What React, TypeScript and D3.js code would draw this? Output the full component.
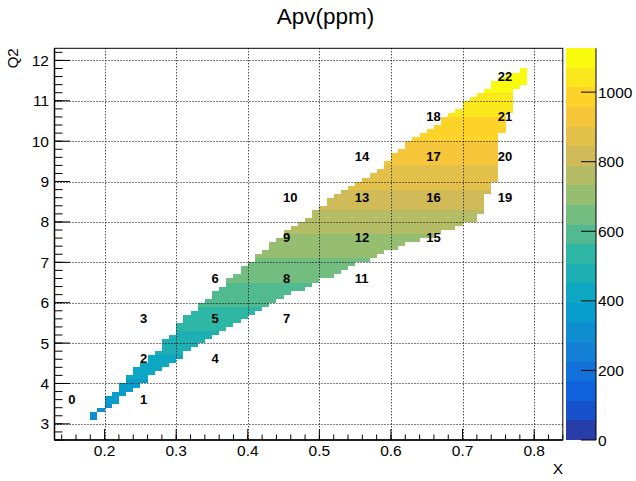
import React from 'react';
import * as d3 from 'd3';

// ---- data ----
const colX = [0.18, 0.19, 0.2, 0.21, 0.22, 0.23, 0.24, 0.25, 0.26, 0.27, 0.28, 0.29, 0.3, 0.31, 0.32, 0.33, 0.34, 0.35, 0.36, 0.37, 0.38, 0.39, 0.4, 0.41, 0.42, 0.43, 0.44, 0.45, 0.46, 0.47, 0.48, 0.49, 0.5, 0.51, 0.52, 0.53, 0.54, 0.55, 0.56, 0.57, 0.58, 0.59, 0.6, 0.61, 0.62, 0.63, 0.64, 0.65, 0.66, 0.67, 0.68, 0.69, 0.7, 0.71, 0.72, 0.73, 0.74, 0.75, 0.76, 0.77, 0.78];
const colQ2Lo = [3.1, 3.3, 3.4, 3.5, 3.7, 3.8, 3.9, 4.0, 4.2, 4.3, 4.4, 4.5, 4.6, 4.8, 4.9, 5.0, 5.1, 5.2, 5.3, 5.4, 5.5, 5.6, 5.7, 5.8, 5.9, 6.0, 6.1, 6.2, 6.3, 6.3, 6.4, 6.5, 6.6, 6.6, 6.7, 6.8, 6.9, 7.0, 7.0, 7.1, 7.2, 7.3, 7.3, 7.4, 7.5, 7.5, 7.6, 7.6, 7.7, 7.8, 7.8, 7.9, 8.0, 8.0, 8.2, 8.7, 9.0, 10.2, 10.7, 11.3, 11.4];
const colQ2Hi = [3.3, 3.4, 3.7, 3.8, 4.0, 4.2, 4.4, 4.5, 4.7, 4.8, 5.1, 5.2, 5.5, 5.7, 5.8, 6.0, 6.1, 6.3, 6.4, 6.6, 6.7, 6.9, 7.0, 7.2, 7.3, 7.5, 7.6, 7.8, 7.9, 8.0, 8.1, 8.3, 8.4, 8.6, 8.7, 8.8, 8.9, 9.0, 9.1, 9.2, 9.3, 9.5, 9.7, 9.8, 10.0, 10.1, 10.2, 10.3, 10.4, 10.6, 10.7, 10.8, 11.0, 11.1, 11.2, 11.3, 11.5, 11.6, 11.7, 11.7, 11.8];
// Apv (ppm) per Q2 row, rows starting at 3.1 in steps of 0.1
const rowApv = [
  301, 310, 320, 329, 339, 349, 358, 368, 377, 387,
  396, 406, 415, 425, 435, 444, 454, 463, 473, 482,
  492, 501, 511, 520, 530, 540, 549, 559, 568, 578,
  587, 597, 606, 616, 626, 635, 645, 654, 664, 673,
  683, 692, 702, 711, 721, 731, 740, 750, 759, 769,
  778, 788, 797, 807, 817, 826, 836, 845, 855, 864,
  874, 883, 893, 902, 912, 922, 931, 941, 950, 960,
  969, 979, 988, 998, 1008, 1017, 1027, 1036, 1046, 1055,
  1065, 1074, 1084, 1093, 1103, 1113, 1122,
];
const binLabels = ['0', '1', '2', '3', '4', '5', '6', '7', '8', '9', '10', '11', '12', '13', '14', '15', '16', '17', '18', '19', '20', '21', '22'];
const labelX = [0.15, 0.25, 0.25, 0.25, 0.35, 0.35, 0.35, 0.45, 0.45, 0.45, 0.45, 0.55, 0.55, 0.55, 0.55, 0.65, 0.65, 0.65, 0.65, 0.75, 0.75, 0.75, 0.75];
const labelQ2 = [3.5, 3.5, 4.5, 5.5, 4.5, 5.5, 6.5, 5.5, 6.5, 7.5, 8.5, 6.5, 7.5, 8.5, 9.5, 7.5, 8.5, 9.5, 10.5, 8.5, 9.5, 10.5, 11.5];
const xTicks = [0.2, 0.3, 0.4, 0.5, 0.6, 0.7, 0.8];
const yTicks = [3, 4, 5, 6, 7, 8, 9, 10, 11, 12];
const zTicks = [0, 200, 400, 600, 800, 1000];

// kBird palette definition
const birdStops = [0.0, 0.125, 0.25, 0.375, 0.5, 0.625, 0.75, 0.875, 1.0];
const birdR = [0.2082, 0.0592, 0.078, 0.0232, 0.1802, 0.5301, 0.8186, 0.9956, 0.9764];
const birdG = [0.1664, 0.3599, 0.5041, 0.6419, 0.7178, 0.7492, 0.7328, 0.7862, 0.9832];
const birdB = [0.5293, 0.8684, 0.8385, 0.7914, 0.6425, 0.4662, 0.3499, 0.1968, 0.0539];

const W = 636;
const H = 481;
const FL = 54.5, FR = 562.8, FT = 48.3, FB = 440;
const xBin = 0.01, yBin = 0.1, rowStart = 3.1;
const zMax = 1126, nLevels = 20;
const FONT = '"Liberation Sans", Arial, Helvetica, sans-serif';

const xScale = d3.scaleLinear().domain([0.13, 0.84]).range([FL, FR]);
const yScale = d3.scaleLinear().domain([2.6, 12.3]).range([FB, FT]);
const zScale = d3.scaleLinear().domain([0, zMax]).range([FB, FT]);

const interpR = d3.scaleLinear().domain(birdStops).range(birdR);
const interpG = d3.scaleLinear().domain(birdStops).range(birdG);
const interpB = d3.scaleLinear().domain(birdStops).range(birdB);
function birdColor(f: number) {
  return d3.rgb(interpR(f) * 255, interpG(f) * 255, interpB(f) * 255).formatHex();
}
function levelColor(i: number) {
  const idx = Math.min(254, Math.floor((i + 0.99) * 255 / nLevels));
  return birdColor(idx / 254);
}
function valueLevel(v: number) {
  return Math.max(0, Math.min(nLevels - 1, Math.floor(v / zMax * nLevels)));
}

export default function App() {
  const cells: { x: number; q: number; v: number }[] = [];
  colX.forEach((x, c) => {
    const n = Math.round((colQ2Hi[c] - colQ2Lo[c]) / yBin);
    for (let k = 0; k < n; k++) {
      const q = colQ2Lo[c] + k * yBin;
      const r = Math.round((q - rowStart) / yBin);
      cells.push({ x, q, v: rowApv[r] });
    }
  });

  const xMinor = d3.range(0.14, 0.8401, 0.02);
  const yMinor = d3.range(2.6, 12.301, 0.2);
  const levels = d3.range(nLevels);
  const zStep = zMax / nLevels;

  return (
    <svg width={W} height={H} style={{ position: 'absolute', left: 0, top: 0, background: '#fff' }} fontFamily={FONT}>
      <rect x={0} y={0} width={W} height={H} fill="#fff" />
      {/* histogram cells */}
      <g shapeRendering="crispEdges">
        {cells.map((d, i) => (
          <rect key={i}
            x={xScale(d.x)} width={xScale(d.x + xBin) - xScale(d.x)}
            y={yScale(d.q + yBin)} height={yScale(d.q) - yScale(d.q + yBin)}
            fill={levelColor(valueLevel(d.v))} />
        ))}
      </g>
      {/* grid */}
      <g stroke="#000" strokeWidth={1} strokeDasharray="1 2">
        {xTicks.map(t => (
          <line key={'gx' + t} x1={Math.round(xScale(t)) + 0.5} x2={Math.round(xScale(t)) + 0.5} y1={FT} y2={FB} />
        ))}
        {yTicks.map(t => (
          <line key={'gy' + t} x1={FL} x2={FR} y1={Math.round(yScale(t)) + 0.5} y2={Math.round(yScale(t)) + 0.5} />
        ))}
      </g>
      {/* frame */}
      <rect x={FL} y={FT} width={FR - FL} height={FB - FT} fill="none" stroke="#000" strokeWidth={1} />
      {/* x axis */}
      <g stroke="#000" strokeWidth={1}>
        <line x1={FL} x2={FR} y1={FB} y2={FB} strokeWidth={1.5} />
        {xMinor.map(t => (
          <line key={'xm' + t} x1={xScale(t)} x2={xScale(t)} y1={FB} y2={FB - 5.5} />
        ))}
        {xTicks.map(t => (
          <line key={'xM' + t} x1={xScale(t)} x2={xScale(t)} y1={FB} y2={FB - 11} />
        ))}
      </g>
      {xTicks.map(t => (
        <text key={'xl' + t} x={xScale(t)} y={456} fontSize={15.5} textAnchor="middle" fill="#000">{d3.format('.1f')(t)}</text>
      ))}
      <text x={563} y={473.5} fontSize={15.5} textAnchor="end" fill="#000">X</text>
      {/* y axis */}
      <g stroke="#000" strokeWidth={1}>
        <line x1={FL} x2={FL} y1={FT} y2={FB} strokeWidth={1.5} />
        {yMinor.map(t => (
          <line key={'ym' + t} x1={FL} x2={FL + 8} y1={yScale(t)} y2={yScale(t)} />
        ))}
        {yTicks.map(t => (
          <line key={'yM' + t} x1={FL} x2={FL + 15.5} y1={yScale(t)} y2={yScale(t)} />
        ))}
      </g>
      {yTicks.map(t => (
        <text key={'yl' + t} x={49} y={yScale(t) + 5.5} fontSize={15.5} textAnchor="end" fill="#000">{t}</text>
      ))}
      <text transform={`translate(18,${FT}) rotate(-90)`} fontSize={15} textAnchor="end" fill="#000">Q2</text>
      {/* palette */}
      <g shapeRendering="crispEdges">
        {levels.map(i => (
          <rect key={'p' + i} x={566} width={30}
            y={zScale((i + 1) * zStep)} height={zScale(i * zStep) - zScale((i + 1) * zStep)}
            fill={levelColor(i)} />
        ))}
      </g>
      <g stroke="#000" strokeWidth={1}>
        <line x1={596} x2={596} y1={FT} y2={FB} />
        {zTicks.map(t => (
          <line key={'zt' + t} x1={596} x2={581} y1={zScale(t)} y2={zScale(t)} />
        ))}
      </g>
      {zTicks.map(t => (
        <text key={'zl' + t} x={598} y={zScale(t) + 5.5} fontSize={15.5} fill="#000">{t}</text>
      ))}
      {/* bin labels */}
      {binLabels.map((s, i) => (
        <text key={'bl' + i} x={xScale(labelX[i]) - 0.5} y={yScale(labelQ2[i])} fontSize={13} fontWeight="bold" fill="#000">{s}</text>
      ))}
      {/* title */}
      <text x={325.5} y={24} fontSize={22.5} textAnchor="middle" fill="#000">Apv(ppm)</text>
    </svg>
  );
}
